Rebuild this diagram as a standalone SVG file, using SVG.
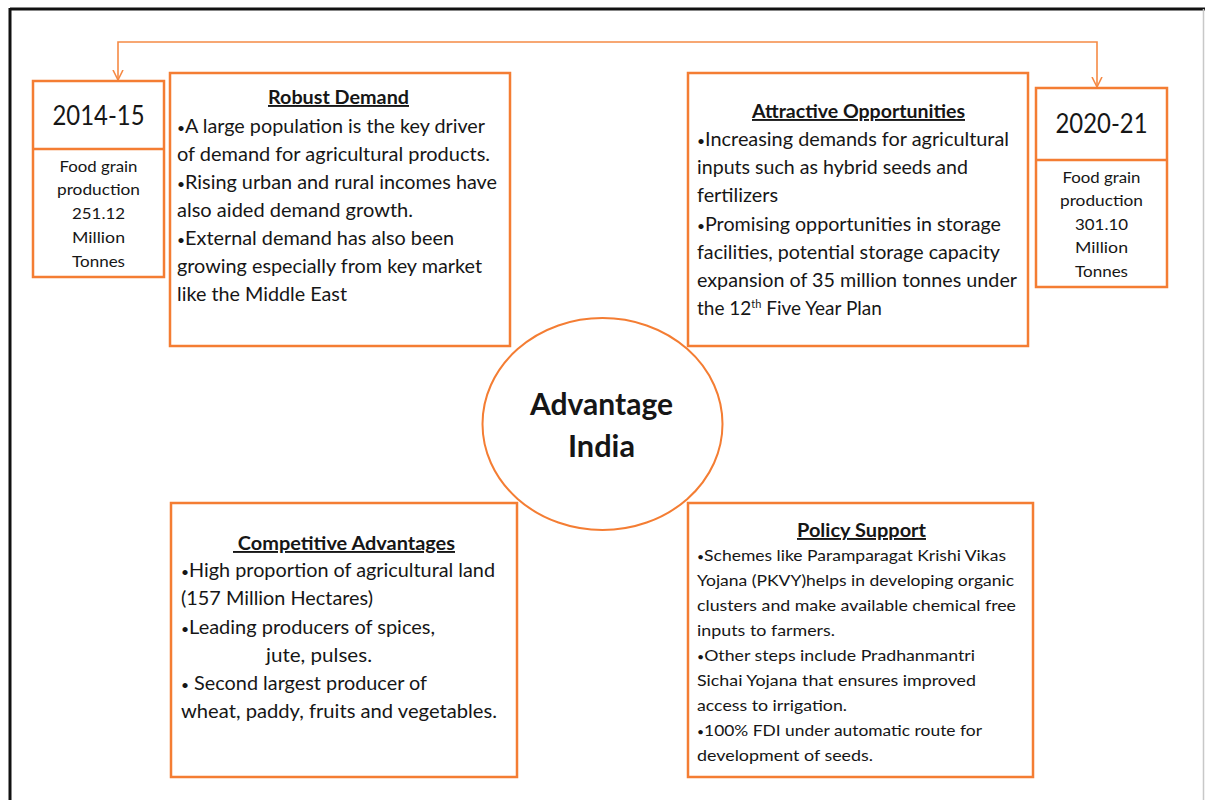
<svg xmlns="http://www.w3.org/2000/svg" width="1205" height="800" viewBox="0 0 1205 800">
  <style>
    .box { fill: #ffffff; stroke: #F47D33; stroke-width: 2.5; }
    .link { fill: none; stroke: #F58A45; stroke-width: 1.6; }
    .t { font-family: Lato, "Open Sans", "Liberation Sans", sans-serif; fill: #161616; }
    .body { font-size: 19px; }
    .small { font-size: 16px; }
    .head { font-size: 19px; font-weight: bold; text-decoration: underline; }
    .year { font-size: 27px; }
    .mid { text-anchor: middle; }
    .b { font-size: 0.7em; }
  </style>
  <defs>
    <marker id="chev" viewBox="0 0 12 12" refX="10" refY="6" markerWidth="12" markerHeight="12" markerUnits="userSpaceOnUse" orient="auto-start-reverse">
      <polyline points="0,1 10,6 0,11" fill="none" stroke="#F58A45" stroke-width="1.6"/>
    </marker>
  </defs>

  <rect width="1205" height="800" fill="#ffffff"/>

  <!-- page frame -->
  <g id="frame">
    <line x1="10" y1="9" x2="1205" y2="9" stroke="#111111" stroke-width="3"/>
    <line x1="10" y1="8" x2="10" y2="800" stroke="#111111" stroke-width="3"/>
    <line x1="1203.5" y1="9" x2="1203.5" y2="800" stroke="#c8c8c8" stroke-width="1.5"/>
  </g>

  <!-- connectors -->
  <g id="connectors">
    <polyline class="link" points="118,80 118,42 1097,42 1097,87" marker-start="url(#chev)" marker-end="url(#chev)"/>
  </g>

  <!-- 2014-15 -->
  <g id="year-2014">
    <rect class="box" x="33" y="81" width="131" height="196"/>
    <line class="box" x1="33" y1="149" x2="164" y2="149"/>
    <text class="t year mid" x="98.5" y="125" textLength="92" lengthAdjust="spacingAndGlyphs">2014-15</text>
    <text class="t small mid" x="98.5" y="172" textLength="78" lengthAdjust="spacingAndGlyphs">Food grain</text>
    <text class="t small mid" x="98.5" y="195" textLength="83" lengthAdjust="spacingAndGlyphs">production</text>
    <text class="t small mid" x="98.5" y="219" textLength="53" lengthAdjust="spacingAndGlyphs">251.12</text>
    <text class="t small mid" x="98.5" y="243" textLength="53" lengthAdjust="spacingAndGlyphs">Million</text>
    <text class="t small mid" x="98.5" y="267" textLength="53" lengthAdjust="spacingAndGlyphs">Tonnes</text>
  </g>

  <!-- Robust Demand -->
  <g id="robust-demand">
    <rect class="box" x="170" y="73" width="340" height="273"/>
    <text class="t head mid" x="338.5" y="104" textLength="141" lengthAdjust="spacingAndGlyphs">Robust Demand</text>
    <text class="t body" x="177" y="133" textLength="308" lengthAdjust="spacingAndGlyphs"><tspan class="b">•</tspan>A large population is the key driver</text>
    <text class="t body" x="177" y="161" textLength="313" lengthAdjust="spacingAndGlyphs">of demand for agricultural products.</text>
    <text class="t body" x="177" y="189" textLength="320" lengthAdjust="spacingAndGlyphs"><tspan class="b">•</tspan>Rising urban and rural incomes have</text>
    <text class="t body" x="177" y="217" textLength="236" lengthAdjust="spacingAndGlyphs">also aided demand growth.</text>
    <text class="t body" x="177" y="245" textLength="277" lengthAdjust="spacingAndGlyphs"><tspan class="b">•</tspan>External demand has also been</text>
    <text class="t body" x="177" y="273" textLength="305" lengthAdjust="spacingAndGlyphs">growing especially from key market</text>
    <text class="t body" x="177" y="301" textLength="170" lengthAdjust="spacingAndGlyphs">like the Middle East</text>
  </g>

  <!-- Attractive Opportunities -->
  <g id="attractive-opportunities">
    <rect class="box" x="688" y="73" width="340" height="273"/>
    <text class="t head mid" x="858.5" y="118" textLength="213" lengthAdjust="spacingAndGlyphs">Attractive Opportunities</text>
    <text class="t body" x="697" y="146" textLength="312" lengthAdjust="spacingAndGlyphs"><tspan class="b">•</tspan>Increasing demands for agricultural</text>
    <text class="t body" x="697" y="174" textLength="271" lengthAdjust="spacingAndGlyphs">inputs such as hybrid seeds and</text>
    <text class="t body" x="697" y="202" textLength="81" lengthAdjust="spacingAndGlyphs">fertilizers</text>
    <text class="t body" x="697" y="231" textLength="304" lengthAdjust="spacingAndGlyphs"><tspan class="b">•</tspan>Promising opportunities in storage</text>
    <text class="t body" x="697" y="259" textLength="303" lengthAdjust="spacingAndGlyphs">facilities, potential storage capacity</text>
    <text class="t body" x="697" y="287" textLength="320" lengthAdjust="spacingAndGlyphs">expansion of 35 million tonnes under</text>
    <text class="t body" x="697" y="315">the 12<tspan font-size="11" dy="-7">th</tspan><tspan dy="7"> Five Year Plan</tspan></text>
  </g>

  <!-- 2020-21 -->
  <g id="year-2020">
    <rect class="box" x="1036" y="88" width="131" height="199"/>
    <line class="box" x1="1036" y1="160" x2="1167" y2="160"/>
    <text class="t year mid" x="1101.5" y="133" textLength="92" lengthAdjust="spacingAndGlyphs">2020-21</text>
    <text class="t small mid" x="1101.5" y="183" textLength="78" lengthAdjust="spacingAndGlyphs">Food grain</text>
    <text class="t small mid" x="1101.5" y="206" textLength="83" lengthAdjust="spacingAndGlyphs">production</text>
    <text class="t small mid" x="1101.5" y="230" textLength="53" lengthAdjust="spacingAndGlyphs">301.10</text>
    <text class="t small mid" x="1101.5" y="253" textLength="53" lengthAdjust="spacingAndGlyphs">Million</text>
    <text class="t small mid" x="1101.5" y="277" textLength="53" lengthAdjust="spacingAndGlyphs">Tonnes</text>
  </g>

  <!-- centre -->
  <g id="advantage-india">
    <ellipse cx="602.5" cy="424" rx="120" ry="106" fill="#ffffff" stroke="#F47D33" stroke-width="2"/>
    <text class="t mid" x="601.5" y="415" font-size="31" font-weight="bold" textLength="143" lengthAdjust="spacingAndGlyphs">Advantage</text>
    <text class="t mid" x="601.5" y="457" font-size="31" font-weight="bold" textLength="67" lengthAdjust="spacingAndGlyphs">India</text>
  </g>

  <!-- Competitive Advantages -->
  <g id="competitive-advantages">
    <rect class="box" x="171" y="503" width="346" height="274"/>
    <text class="t head" x="233" y="550" xml:space="preserve" textLength="222" lengthAdjust="spacingAndGlyphs"> Competitive Advantages</text>
    <text class="t body" x="181" y="577" textLength="314" lengthAdjust="spacingAndGlyphs"><tspan class="b">•</tspan>High proportion of agricultural land</text>
    <text class="t body" x="181" y="605" textLength="192" lengthAdjust="spacingAndGlyphs">(157 Million Hectares)</text>
    <text class="t body" x="181" y="634" textLength="254" lengthAdjust="spacingAndGlyphs"><tspan class="b">•</tspan>Leading producers of spices,</text>
    <text class="t body" x="266" y="662" textLength="106" lengthAdjust="spacingAndGlyphs">jute, pulses.</text>
    <text class="t body" x="181" y="690" textLength="246" lengthAdjust="spacingAndGlyphs" xml:space="preserve"><tspan class="b">•</tspan> Second largest producer of</text>
    <text class="t body" x="181" y="718" textLength="316" lengthAdjust="spacingAndGlyphs">wheat, paddy, fruits and vegetables.</text>
  </g>

  <!-- Policy Support -->
  <g id="policy-support">
    <rect class="box" x="688" y="503" width="345" height="274"/>
    <text class="t head mid" x="861.5" y="537" textLength="129" lengthAdjust="spacingAndGlyphs">Policy Support</text>
    <text class="t small" x="697" y="561" textLength="309" lengthAdjust="spacingAndGlyphs"><tspan class="b">•</tspan>Schemes like Paramparagat Krishi Vikas</text>
    <text class="t small" x="697" y="586" textLength="317" lengthAdjust="spacingAndGlyphs">Yojana (PKVY)helps in developing organic</text>
    <text class="t small" x="697" y="611" textLength="319" lengthAdjust="spacingAndGlyphs">clusters and make available chemical free</text>
    <text class="t small" x="697" y="636" textLength="138" lengthAdjust="spacingAndGlyphs">inputs to farmers.</text>
    <text class="t small" x="697" y="661" textLength="278" lengthAdjust="spacingAndGlyphs"><tspan class="b">•</tspan>Other steps include Pradhanmantri</text>
    <text class="t small" x="697" y="686" textLength="279" lengthAdjust="spacingAndGlyphs">Sichai Yojana that ensures improved</text>
    <text class="t small" x="697" y="711" textLength="150" lengthAdjust="spacingAndGlyphs">access to irrigation.</text>
    <text class="t small" x="697" y="736" textLength="285" lengthAdjust="spacingAndGlyphs"><tspan class="b">•</tspan>100% FDI under automatic route for</text>
    <text class="t small" x="697" y="761" textLength="176" lengthAdjust="spacingAndGlyphs">development of seeds.</text>
  </g>
</svg>
